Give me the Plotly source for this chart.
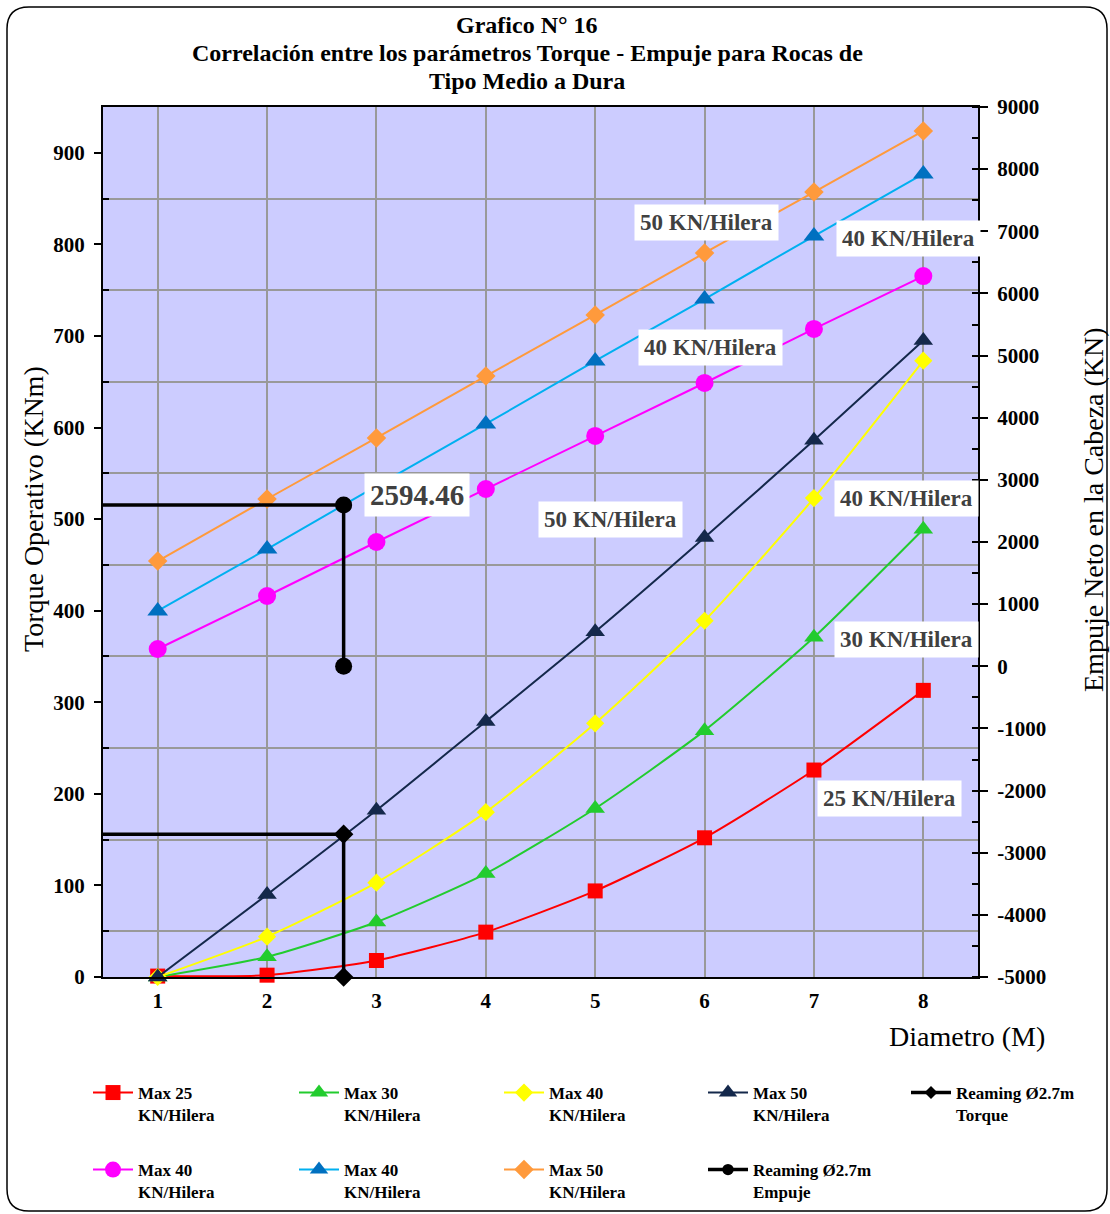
import plotly.graph_objects as go

# ---------------- data ----------------
diametro = [1, 2, 3, 4, 5, 6, 7, 8]

# Torque (left axis, KNm)
torque_25 = [1, 2, 18, 49, 94, 152, 226, 313]
torque_30 = [0, 22, 60, 113, 184, 269, 371, 489]
torque_40 = [0, 44, 103, 180, 277, 389, 523, 673]
torque_50 = [0, 90, 182, 279, 377, 480, 586, 695]

# Empuje (right axis, KN)
empuje_40a = [278, 1131, 2000, 2853, 3706, 4559, 5428, 6280]
empuje_40b = [890, 1887, 2900, 3899, 4913, 5910, 6924, 7922]
empuje_50 = [1694, 2692, 3674, 4671, 5653, 6651, 7632, 8614]

# Reaming Ø2.7m
reaming_x = [0.5, 2.7, 2.7]
reaming_torque = [156, 156, 0]
reaming_empuje = [2594.46, 2594.46, 0]

left_ticks = [0, 100, 200, 300, 400, 500, 600, 700, 800, 900]
right_ticks = [-5000, -4000, -3000, -2000, -1000, 0, 1000, 2000, 3000, 4000, 5000, 6000, 7000, 8000, 9000]

label_25 = "Max 25<br>KN/Hilera"
label_30 = "Max 30<br>KN/Hilera"
label_40 = "Max 40<br>KN/Hilera"
label_50 = "Max 50<br>KN/Hilera"
label_rt = "Reaming Ø2.7m<br>Torque"
label_re = "Reaming Ø2.7m<br>Empuje"

title_lines = ["Grafico N° 16",
               "Correlación entre los parámetros Torque - Empuje para Rocas de",
               "Tipo Medio a Dura"]

SERIF = "Liberation Serif, Times New Roman, serif"

W, H = 1110, 1214
ML, MR, MT, MB = 103, 132, 107, 237
PW, PH = W - ML - MR, H - MT - MB


def px(xp):
    return (xp - ML) / PW


def py(yp):
    return (H - MB - yp) / PH


fig = go.Figure()
legend_pos = {}
col_x = [88, 294, 499, 703, 906]
row_y = [1075, 1152]


def add(x, y, name, color, symbol, size, width, col, row, axis="y", mcolor=None, smooth=False):
    lg = "legend" if not legend_pos else f"legend{len(legend_pos) + 1}"
    legend_pos[lg] = (col_x[col], row_y[row])
    line = dict(color=color, width=width)
    if smooth:
        line.update(shape="spline", smoothing=0.6)
    fig.add_trace(go.Scatter(
        x=x, y=y, name=name, mode="lines+markers", yaxis=axis, legend=lg,
        line=line,
        marker=dict(symbol=symbol, size=size, color=mcolor or color, opacity=1,
                    line=dict(width=0)),
        cliponaxis=False,
    ))

add(diametro, torque_25, label_25, "#FF0000", "square", 15, 2, 0, 0, smooth=True)
add(diametro, torque_30, label_30, "#22CC2E", "triangle-up", 17, 2, 1, 0, smooth=True)
add(diametro, torque_40, label_40, "#FFFF00", "diamond", 14, 2, 2, 0, smooth=True)
add(diametro, torque_50, label_50, "#14284B", "triangle-up", 17, 2, 3, 0, smooth=True)
add(reaming_x, reaming_torque, label_rt, "#000000", "diamond", [0, 15, 15], 3.5, 4, 0)
add(diametro, empuje_40a, label_40, "#FF00FF", "circle", 18, 2, 0, 1, axis="y2")
add(diametro, empuje_40b, label_40, "#00B0F0", "triangle-up", 18, 2, 1, 1, axis="y2", mcolor="#0070C0")
add(diametro, empuje_50, label_50, "#FF9A3C", "diamond", 15, 2, 2, 1, axis="y2")
add(reaming_x, reaming_empuje, label_re, "#000000", "circle", [0, 17, 17], 3.5, 3, 1, axis="y2")

tickfont = dict(family=SERIF, size=21, color="black", weight="bold")

fig.update_layout(
    width=W, height=H,
    margin=dict(l=ML, r=MR, t=MT, b=MB, autoexpand=False),
    paper_bgcolor="white",
    plot_bgcolor="#CCCCFF",
    font=dict(family=SERIF, color="black"),
    showlegend=True,
    xaxis=dict(
        range=[0.5, 8.5], tickvals=diametro, showgrid=True, gridcolor="#999999", gridwidth=1.5,
        showline=True, linecolor="black", linewidth=2, mirror=True, ticks="",
        tickfont=tickfont, ticklabelstandoff=4, zeroline=False,
    ),
    yaxis=dict(
        range=[0, 950], tickvals=left_ticks,
        showgrid=False, zeroline=False,
        showline=True, linecolor="black", linewidth=2,
        ticks="outside", ticklen=7, tickwidth=2, tickcolor="black",
        tickfont=tickfont, ticklabelstandoff=5,
        minor=dict(tickvals=[50, 150, 250, 350, 450, 550, 650, 750, 850], showgrid=True,
                   gridcolor="#999999", gridwidth=1.5, ticks="inside", ticklen=6,
                   tickcolor="black", tickwidth=2),
    ),
    yaxis2=dict(
        range=[-5000, 9000], overlaying="y", side="right",
        tickvals=right_ticks, ticktext=[str(v) for v in right_ticks],
        showgrid=False, zeroline=False,
        showline=True, linecolor="black", linewidth=2,
        ticks="outside", ticklen=8, tickwidth=2, tickcolor="black",
        tickfont=tickfont, ticklabelstandoff=5,
        minor=dict(dtick=500, tick0=-5000, ticks="inside", ticklen=6, tickcolor="black",
                   tickwidth=2, showgrid=False),
    ),
)

legend_font = dict(family=SERIF, size=17, color="black", weight="bold")
for lg, (lx, ly) in legend_pos.items():
    fig.update_layout({lg: dict(x=px(lx), xanchor="left", y=py(ly), yanchor="top",
                                valign="top", font=legend_font, itemwidth=40,
                                bgcolor="rgba(0,0,0,0)")})

# Title (three lines)
for line, yc in zip(title_lines, [25, 53, 81]):
    fig.add_annotation(text=line, xref="paper", yref="paper", x=px(527), y=py(yc),
                       xanchor="center", yanchor="middle", showarrow=False,
                       font=dict(family=SERIF, size=24, color="black", weight="bold"))

# Axis titles
fig.add_annotation(text="Torque Operativo (KNm)", xref="paper", yref="paper",
                   x=px(33), y=py(509), xanchor="center", yanchor="middle",
                   textangle=-90, showarrow=False,
                   font=dict(family=SERIF, size=28, color="black"))
fig.add_annotation(text="Empuje Neto en la Cabeza (KN)", xref="paper", yref="paper",
                   x=px(1093), y=py(510), xanchor="center", yanchor="middle",
                   textangle=-90, showarrow=False,
                   font=dict(family=SERIF, size=28, color="black"))
fig.add_annotation(text="Diametro (M)", xref="paper", yref="paper",
                   x=px(1047), y=py(1036), xanchor="right", yanchor="middle",
                   showarrow=False,
                   font=dict(family=SERIF, size=28, color="black"))

# Series labels
labels = [
    ("50 KN/Hilera", 6.02, 824),
    ("40 KN/Hilera", 7.86, 806),
    ("40 KN/Hilera", 6.05, 687),
    ("50 KN/Hilera", 5.14, 500),
    ("40 KN/Hilera", 7.85, 522),
    ("30 KN/Hilera", 7.85, 369),
    ("25 KN/Hilera", 7.69, 195),
]
for t, xv, yv in labels:
    fig.add_annotation(text=t, x=xv, y=yv, xref="x", yref="y", showarrow=False,
                       bgcolor="white", borderpad=5,
                       font=dict(family=SERIF, size=23, color="#404040", weight="bold"))
fig.add_annotation(text="2594.46", x=3.37, y=526, xref="x", yref="y", showarrow=False,
                   bgcolor="white", borderpad=5,
                   font=dict(family=SERIF, size=29, color="#404040", weight="bold"))

# Rounded outer border
x0, x1 = px(7), px(1107)
y0, y1 = py(1211), py(7)
rx, ry = 22 / PW, 22 / PH
path = (f"M {x0+rx},{y1} L {x1-rx},{y1} Q {x1},{y1} {x1},{y1-ry} "
        f"L {x1},{y0+ry} Q {x1},{y0} {x1-rx},{y0} "
        f"L {x0+rx},{y0} Q {x0},{y0} {x0},{y0+ry} "
        f"L {x0},{y1-ry} Q {x0},{y1} {x0+rx},{y1} Z")
fig.add_shape(type="path", path=path, xref="paper", yref="paper",
              line=dict(color="black", width=1.5), layer="below")

fig.write_html("out.html", config={"displayModeBar": False},
               post_script="document.body.style.margin='0';document.body.style.overflow='hidden';")
